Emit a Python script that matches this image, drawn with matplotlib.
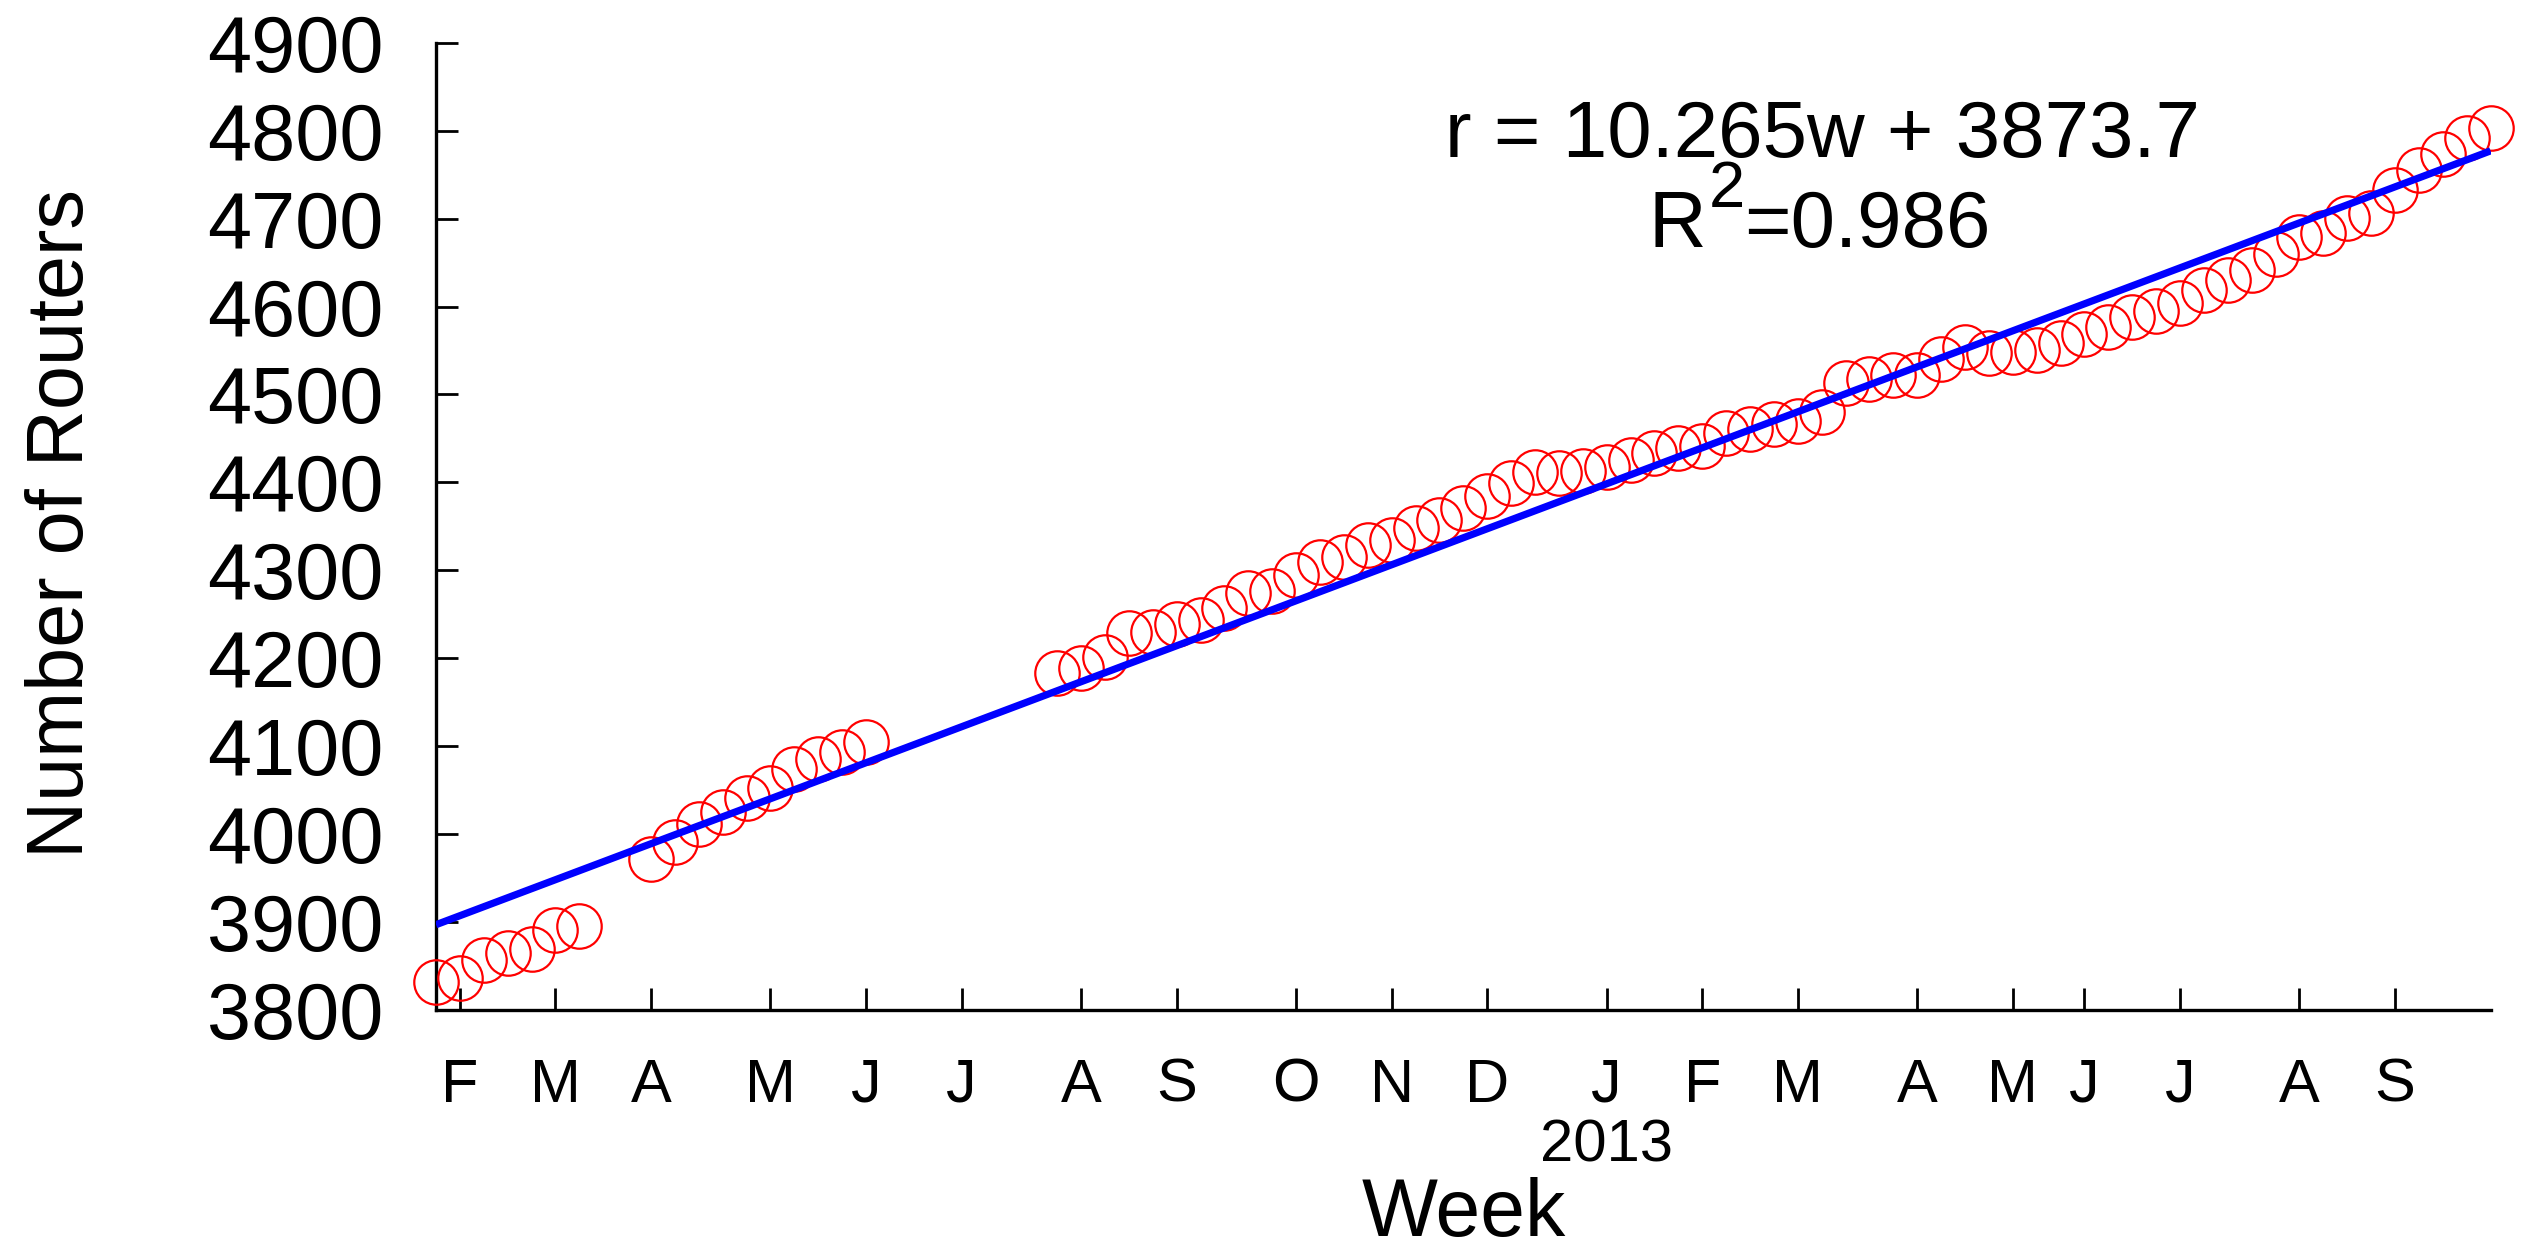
import matplotlib
matplotlib.use("Agg")
import matplotlib.pyplot as plt
from matplotlib import transforms

# ---------------- data ----------------
weeks_a = list(range(0, 7))
routers_a = [3832, 3836, 3857, 3865, 3869, 3891, 3896]

weeks_b = list(range(9, 19))
routers_b = [3972, 3991, 4012, 4025, 4041, 4053, 4074, 4086, 4093, 4105]

weeks_c = list(range(26, 87))
routers_c = [4183, 4189, 4201, 4229, 4230, 4239, 4244, 4257, 4274, 4277,
             4295, 4309, 4315, 4329, 4334, 4348, 4357, 4371, 4385, 4399,
             4412, 4411, 4413, 4418, 4426, 4433, 4439, 4441, 4456, 4461,
             4466, 4470, 4480, 4513, 4518, 4522, 4522, 4540, 4554, 4547,
             4548, 4551, 4558, 4569, 4577, 4588, 4595, 4604, 4619, 4630,
             4641, 4660, 4679, 4684, 4701, 4706, 4733, 4755, 4773, 4792,
             4803]

weeks = weeks_a + weeks_b + weeks_c
routers = routers_a + routers_b + routers_c

fit_weeks = [0, 86]
fit_routers = [3897, 4777]

tick_weeks = [1, 5, 9, 14, 18, 22, 27, 31, 36, 40, 44,
              49, 53, 57, 62, 66, 69, 73, 78, 82]
tick_labels = ["F", "M", "A", "M", "J", "J", "A", "S", "O", "N", "D",
               "J", "F", "M", "A", "M", "J", "J", "A", "S"]
year_week = 49
year_label = "2013"

y_ticks = [3800, 3900, 4000, 4100, 4200, 4300, 4400, 4500, 4600, 4700, 4800, 4900]

eq_text = "r = 10.265w + 3873.7"
r2_parts = ("R", "2", "=0.986")

# ---------------- style ----------------
plt.rcParams["font.family"] = ["Liberation Sans", "DejaVu Sans"]

W, H = 2536, 1244
fig = plt.figure(figsize=(W / 100, H / 100), dpi=100)
x0, x1 = 436, 2490.6
y_bot, y_top = 1010, 42.7
ax = fig.add_axes([x0 / W, 1 - y_bot / H, (x1 - x0) / W, (y_bot - y_top) / H])

ax.plot(weeks, routers, linestyle="none", marker="o", mfc="none", mec="red",
        ms=32, mew=1.6, clip_on=False, zorder=3)
ax.plot(fit_weeks, fit_routers, color="blue", lw=5.2,
        solid_capstyle="butt", zorder=4)

ax.set_xlim(0, 86)
ax.set_ylim(3800, 4900)

ax.spines["top"].set_visible(False)
ax.spines["right"].set_visible(False)
for s in ("left", "bottom"):
    ax.spines[s].set_linewidth(2.4)

ax.set_xticks(tick_weeks)
ax.set_xticklabels(tick_labels, fontsize=44)
ax.set_yticks(y_ticks)
ax.set_yticklabels([str(v) for v in y_ticks], fontsize=57)
ax.tick_params(axis="both", direction="in", length=16, width=2)
ax.tick_params(axis="x", pad=34.5)
ax.tick_params(axis="y", pad=38)

# year label under the January 2013 tick
trans = transforms.blended_transform_factory(ax.transData, fig.transFigure)
ax.text(year_week, 1 - 1161.7 / H, year_label, transform=trans,
        ha="center", va="baseline", fontsize=43)

# axis labels
ax.set_xlabel("Week", fontsize=58)
ax.xaxis.label.set_va("baseline")
ax.xaxis.set_label_coords(0.5, (y_bot - 1236) / (y_bot - y_top))

ax.set_ylabel("Number of Routers", fontsize=57)
ax.yaxis.label.set_rotation_mode("anchor")
ax.yaxis.label.set_va("baseline")
ax.yaxis.label.set_ha("center")
ax.yaxis.set_label_coords((83 - x0) / (x1 - x0), (y_bot - 524) / (y_bot - y_top))

# fit annotation
fig.text(1822 / W, 1 - 157.3 / H, eq_text, ha="center", va="baseline", fontsize=57.5)
fig.text(1649 / W, 1 - 246.7 / H, r2_parts[0], ha="left", va="baseline", fontsize=57.5)
fig.text(1709 / W, 1 - 206.7 / H, r2_parts[1], ha="left", va="baseline", fontsize=47)
fig.text(1744 / W, 1 - 246.7 / H, r2_parts[2], ha="left", va="baseline", fontsize=57.5)

fig.savefig("out.png", dpi=100, facecolor="white")
